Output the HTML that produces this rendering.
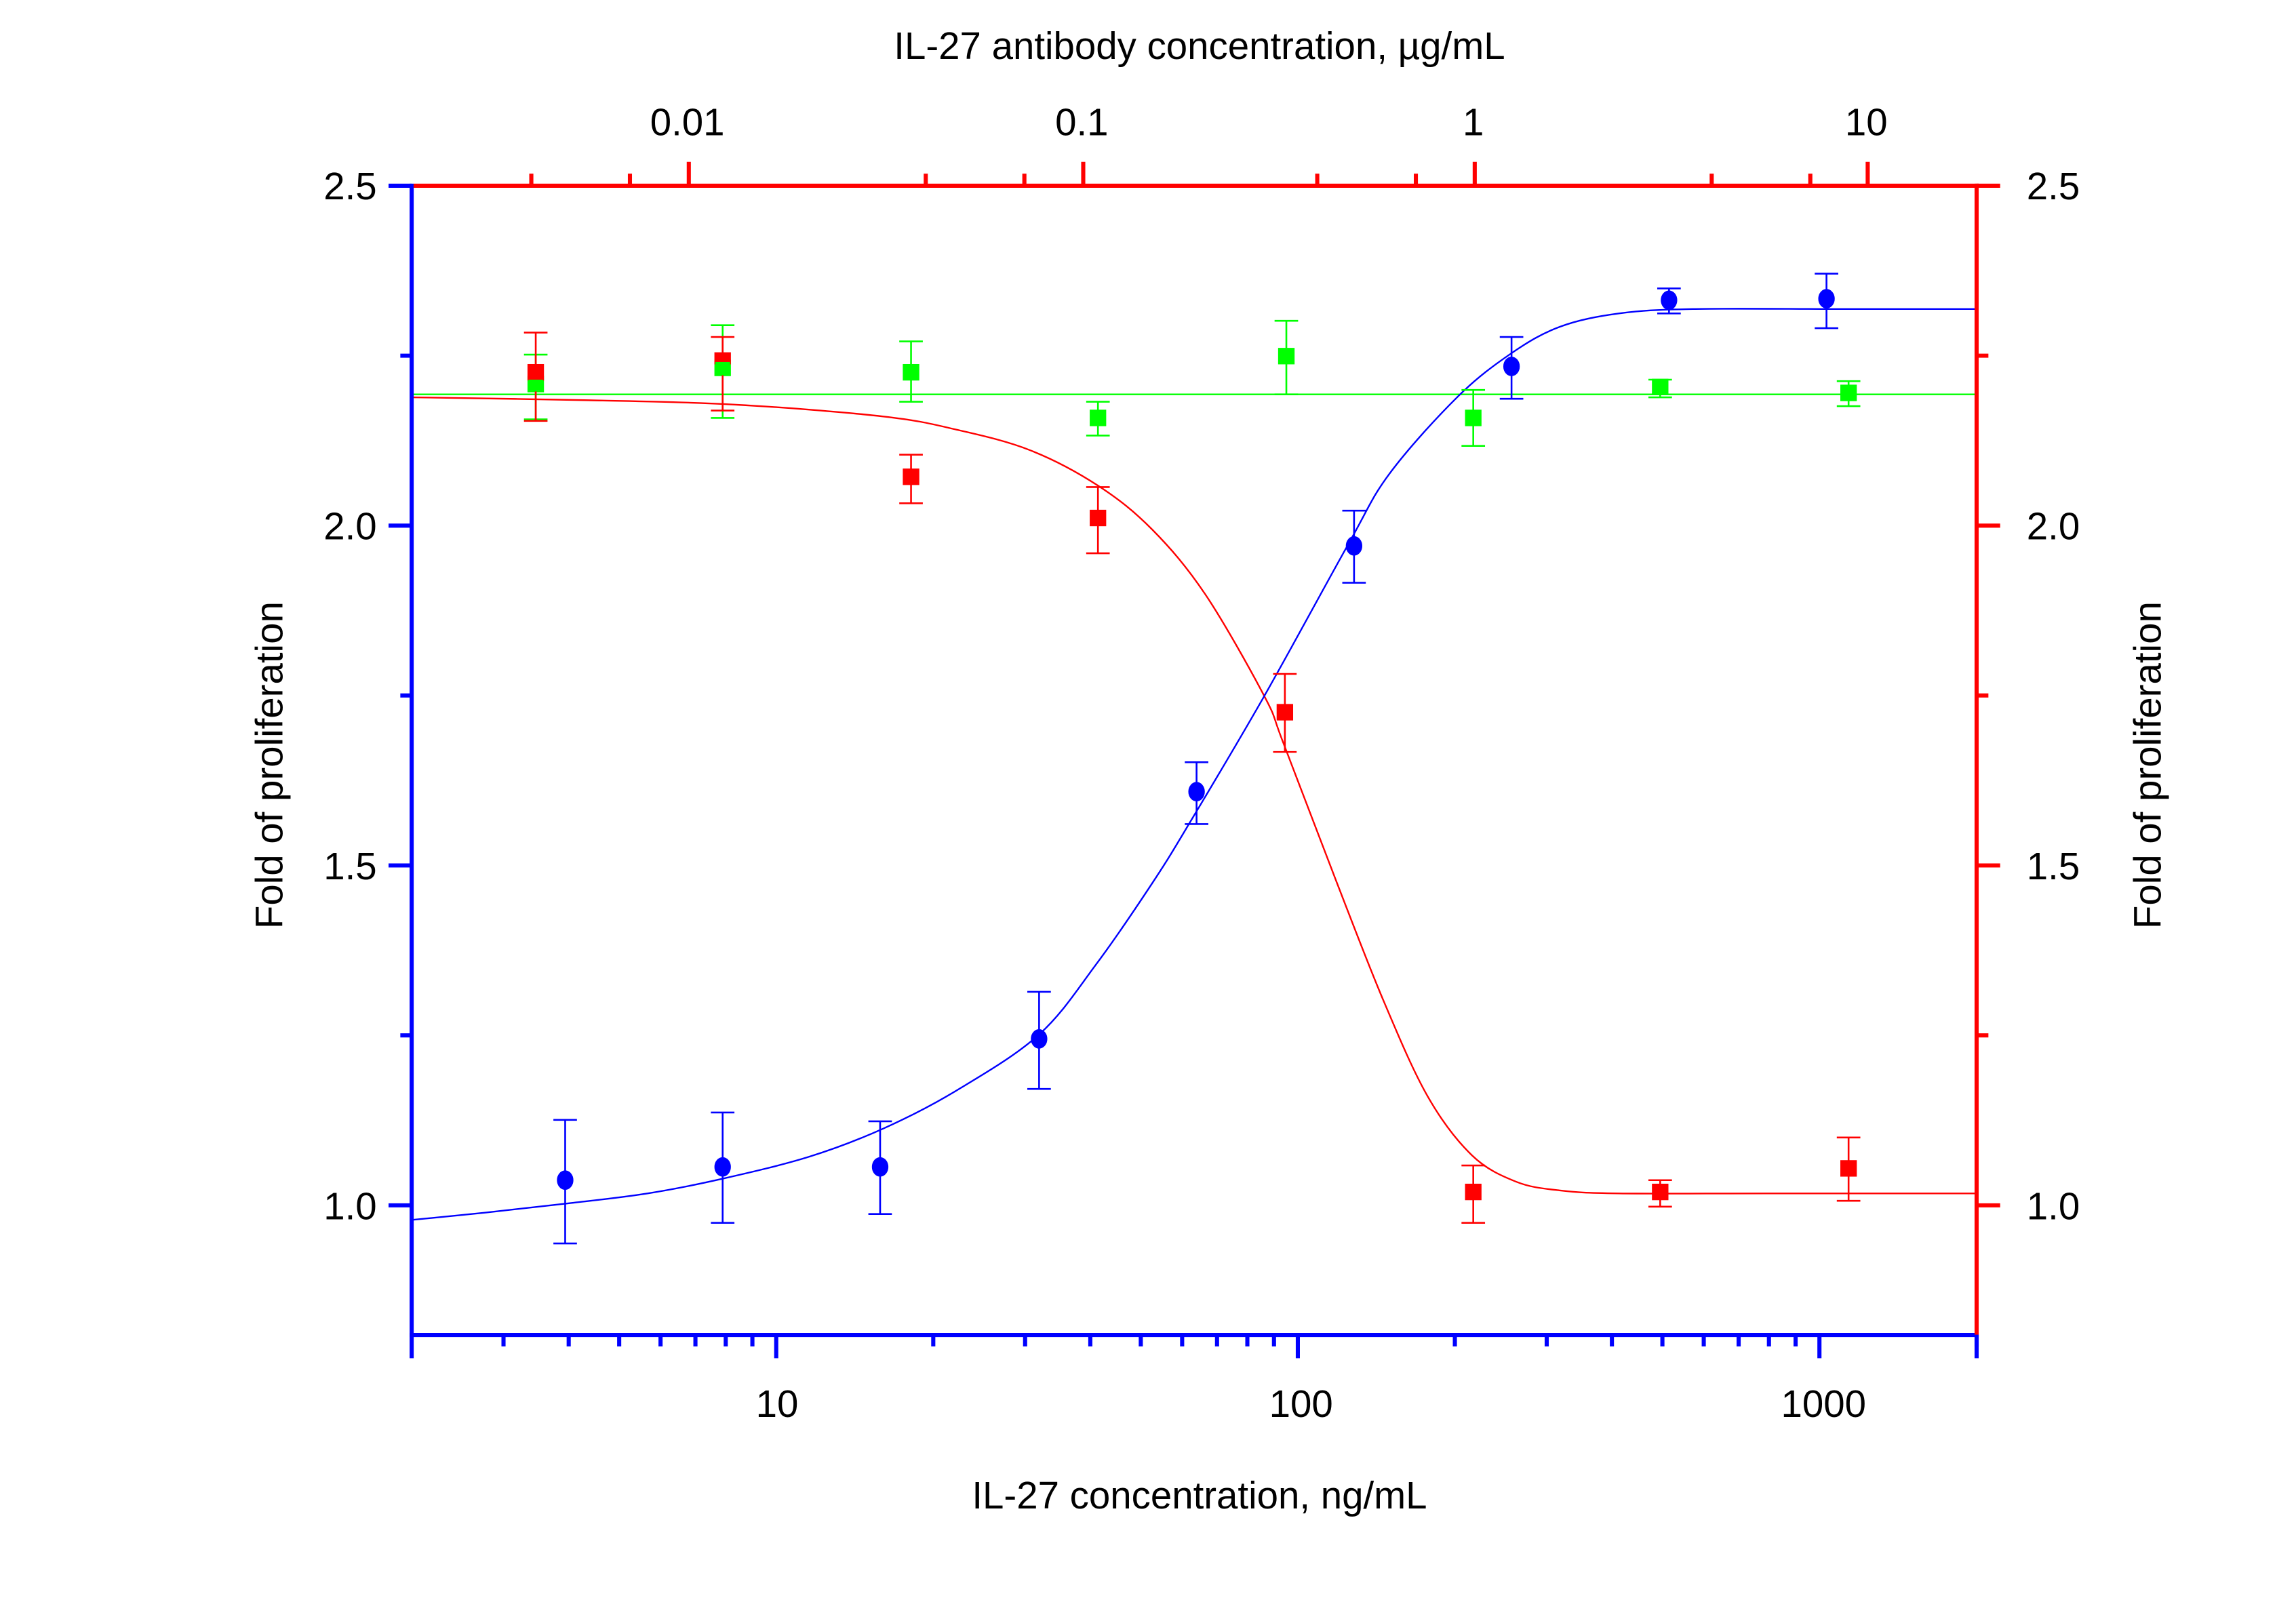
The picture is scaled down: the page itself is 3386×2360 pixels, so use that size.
<!DOCTYPE html>
<html><head><meta charset="utf-8"><style>
html,body{margin:0;padding:0;background:#fff;}
svg{display:block;}
text{font-family:"Liberation Sans",Arial,sans-serif;fill:#000;}
</style></head><body>
<svg width="3386" height="2360" viewBox="0 0 1560 1087.3" preserveAspectRatio="none" xmlns="http://www.w3.org/2000/svg">
<line x1="280" y1="268" x2="1343" y2="268" stroke="#00ff00" stroke-width="1.1"/>
<path id="redc" fill="none" stroke="#ff0000" stroke-width="1.1" d="M280,270L400,272L500,275L600,283L650,292L700,306L746,330L783,360L819,404L859,473L872,505L908,599L940,680L970,745L1000,785L1030,803L1060,809L1100,811L1343,811"/>
<path id="bluec" fill="none" stroke="#0000ff" stroke-width="1.1" d="M280,829L330,824L384,818L440,811L491,801L550,786L600,767L650,741L706,703L745,655L783,600L809,558L859,473L916,370L944,322L990,270L1027,240L1060,222L1100,213L1150,210L1343,210"/>
<g stroke="#00ff00" stroke-width="1.2" fill="#00ff00">
<path d="M364,241V285M356,241H372M356,285H372"/><rect x="359" y="256" width="10" height="10"/>
<path d="M491,221V284M483,221H499M483,284H499"/><rect x="486" y="245" width="10" height="10"/>
<path d="M619,232V273M611,232H627M611,273H627"/><rect x="614" y="248" width="10" height="10"/>
<path d="M746,273V296M738,273H754M738,296H754"/><rect x="741" y="279" width="10" height="10"/>
<path d="M874,218V268M866,218H882M866,268H882"/><rect x="869" y="237" width="10" height="10"/>
<path d="M1001,265V303M993,265H1009M993,303H1009"/><rect x="996" y="279" width="10" height="10"/>
<path d="M1128,258V270M1120,258H1136M1120,270H1136"/><rect x="1123" y="258" width="10" height="10"/>
<path d="M1256,259V276M1248,259H1264M1248,276H1264"/><rect x="1251" y="262" width="10" height="10"/>
</g>
<g stroke="#ff0000" stroke-width="1.2" fill="#ff0000">
<path d="M364,226V286M356,226H372M356,286H372"/><rect x="359" y="248" width="10" height="10"/>
<path d="M491,229V279M483,229H499M483,279H499"/><rect x="486" y="240" width="10" height="7"/>
<path d="M619,309V342M611,309H627M611,342H627"/><rect x="614" y="319" width="10" height="10"/>
<path d="M746,331V376M738,331H754M738,376H754"/><rect x="741" y="347" width="10" height="10"/>
<path d="M873,458V511M865,458H881M865,511H881"/><rect x="868" y="479" width="10" height="10"/>
<path d="M1001,792V831M993,792H1009M993,831H1009"/><rect x="996" y="805" width="10" height="10"/>
<path d="M1128,802V820M1120,802H1136M1120,820H1136"/><rect x="1123" y="805" width="10" height="10"/>
<path d="M1256,773V816M1248,773H1264M1248,816H1264"/><rect x="1251" y="789" width="10" height="10"/>
</g>
<g fill="#00ff00"><rect x="359" y="258" width="10" height="8"/><rect x="486" y="246" width="10" height="9"/></g>
<g stroke="#0000ff" stroke-width="1.2" fill="#0000ff">
<path d="M384,761V845M376,761H392M376,845H392"/><ellipse cx="384" cy="802" rx="5" ry="6"/>
<path d="M491,756V831M483,756H499M483,831H499"/><ellipse cx="491" cy="793" rx="5" ry="6"/>
<path d="M598,762V825M590,762H606M590,825H606"/><ellipse cx="598" cy="793" rx="5" ry="6"/>
<path d="M706,674V740M698,674H714M698,740H714"/><ellipse cx="706" cy="706" rx="5" ry="6"/>
<path d="M813,518V560M805,518H821M805,560H821"/><ellipse cx="813" cy="538" rx="5" ry="6"/>
<path d="M920,347V396M912,347H928M912,396H928"/><ellipse cx="920" cy="371" rx="5" ry="6"/>
<path d="M1027,229V271M1019,229H1035M1019,271H1035"/><ellipse cx="1027" cy="249" rx="5" ry="6"/>
<path d="M1134,196V213M1126,196H1142M1126,213H1142"/><ellipse cx="1134" cy="204" rx="5" ry="6"/>
<path d="M1241,186V223M1233,186H1249M1233,223H1249"/><ellipse cx="1241" cy="203" rx="5" ry="6"/>
</g>
<g stroke="#0000ff" stroke-width="2.8" fill="none">
<line x1="279.7" y1="124.8" x2="279.7" y2="908.6"/>
<line x1="278.3" y1="907.2" x2="1344.4" y2="907.2"/>
<path d="M264,126.2H279.7M264,357.2H279.7M264,588.1H279.7M264,819.1H279.7M272,241.7H279.7M272,472.6H279.7M272,703.6H279.7"/>
<path d="M279.7,907.2V923M527.4,907.2V923M881.8,907.2V923M1236.2,907.2V923M1343,907.2V923"/>
<path d="M342.1,907.2V915M386.4,907.2V915M420.7,907.2V915M448.8,907.2V915M472.5,907.2V915M493.1,907.2V915M511.2,907.2V915M634.1,907.2V915M696.5,907.2V915M740.8,907.2V915M775.1,907.2V915M803.2,907.2V915M826.9,907.2V915M847.5,907.2V915M865.6,907.2V915M988.5,907.2V915M1050.9,907.2V915M1095.2,907.2V915M1129.5,907.2V915M1157.6,907.2V915M1181.3,907.2V915M1201.9,907.2V915M1220,907.2V915"/>
</g>
<g stroke="#ff0000" stroke-width="2.8" fill="none">
<line x1="1343" y1="124.8" x2="1343" y2="907"/>
<line x1="281" y1="126.2" x2="1344.4" y2="126.2"/>
<path d="M1343,126.2H1359M1343,357.2H1359M1343,588.1H1359M1343,819.1H1359M1343,241.7H1351M1343,472.6H1351M1343,703.6H1351"/>
<path d="M468,126.2V110M736,126.2V110M1002,126.2V110M1269,126.2V110"/>
<path d="M361,126.2V118M428,126.2V118M629,126.2V118M696,126.2V118M895,126.2V118M962,126.2V118M1163,126.2V118M1230,126.2V118"/>
</g>
<line x1="1343" y1="907.2" x2="1343" y2="915" stroke="#0000ff" stroke-width="2.8"/>
<g font-size="26">
<text x="256" y="135.5" text-anchor="end">2.5</text>
<text x="256" y="366.5" text-anchor="end">2.0</text>
<text x="256" y="597.5" text-anchor="end">1.5</text>
<text x="256" y="828.5" text-anchor="end">1.0</text>
<text x="1377" y="135.5">2.5</text>
<text x="1377" y="366.5">2.0</text>
<text x="1377" y="597.5">1.5</text>
<text x="1377" y="828.5">1.0</text>
<text x="528" y="963" text-anchor="middle">10</text>
<text x="884" y="963" text-anchor="middle">100</text>
<text x="1239" y="963" text-anchor="middle">1000</text>
<text x="467" y="92" text-anchor="middle">0.01</text>
<text x="735" y="92" text-anchor="middle">0.1</text>
<text x="1001" y="92" text-anchor="middle">1</text>
<text x="1268" y="92" text-anchor="middle">10</text>
<text x="815" y="1025" text-anchor="middle">IL-27 concentration, ng/mL</text>
<text x="815" y="40" text-anchor="middle">IL-27 antibody concentration, µg/mL</text>
<text transform="translate(192,520) rotate(-90)" text-anchor="middle">Fold of proliferation</text>
<text transform="translate(1468,520) rotate(-90)" text-anchor="middle">Fold of proliferation</text>
</g>
</svg>
<script>
function smooth(id,pts){
  var d="M"+pts[0][0]+","+pts[0][1];
  for(var i=0;i<pts.length-1;i++){
    var p0=pts[Math.max(i-1,0)],p1=pts[i],p2=pts[i+1],p3=pts[Math.min(i+2,pts.length-1)];
    var c1x=p1[0]+(p2[0]-p0[0])/6,c1y=p1[1]+(p2[1]-p0[1])/6;
    var c2x=p2[0]-(p3[0]-p1[0])/6,c2y=p2[1]-(p3[1]-p1[1])/6;
    d+="C"+c1x.toFixed(2)+","+c1y.toFixed(2)+" "+c2x.toFixed(2)+","+c2y.toFixed(2)+" "+p2[0]+","+p2[1];
  }
  document.getElementById(id).setAttribute("d",d);
}
smooth("redc",[[280,270],[400,272],[500,275],[600,283],[650,292],[700,306],[746,330],[783,360],[819,404],[859,473],[872,505],[908,599],[940,680],[970,745],[1000,785],[1030,803],[1060,809],[1100,811],[1200,811],[1343,811]]);
smooth("bluec",[[280,829],[330,824],[384,818],[440,811],[491,801],[550,786],[600,767],[650,741],[706,703],[745,655],[783,600],[809,558],[859,473],[916,370],[944,322],[990,270],[1027,240],[1060,222],[1100,213],[1150,210],[1250,210],[1343,210]]);
</script>
</body></html>
